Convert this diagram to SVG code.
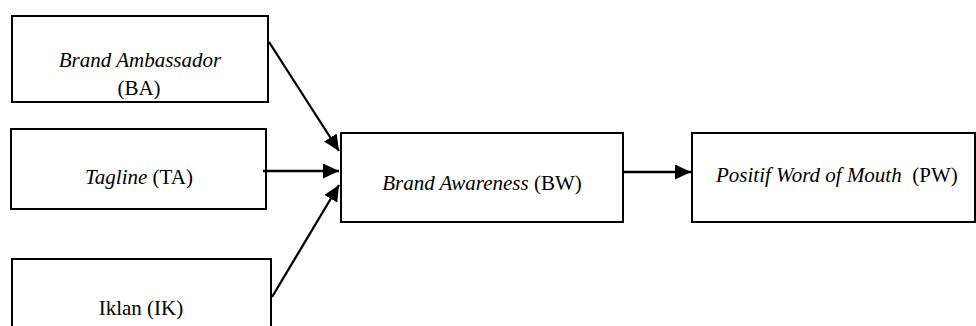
<svg xmlns="http://www.w3.org/2000/svg" width="976" height="326" viewBox="0 0 976 326">
<style>
.box{fill:#fff;stroke:#000;stroke-width:2}
text{font-family:'Liberation Serif','Times New Roman',serif;font-size:21px;fill:#000}
.i{font-style:italic}
.c{stroke:#000;stroke-width:2.3;fill:none}
</style>
<defs>
<marker id="ah" markerUnits="userSpaceOnUse" markerWidth="17" markerHeight="16" refX="16" refY="7.5" orient="auto">
<path d="M0,0 L16,7.5 L0,15 z" fill="#000"/>
</marker>
</defs>
<rect width="976" height="326" fill="#fff"/>
<g id="BA">
<rect class="box" x="12" y="16" width="256" height="86"/>
<text class="i" x="140" y="67" text-anchor="middle">Brand Ambassador</text>
<text x="139" y="95" text-anchor="middle">(BA)</text>
</g>
<g id="TA">
<rect class="box" x="11" y="129" width="255" height="80"/>
<text x="139" y="184" text-anchor="middle"><tspan class="i">Tagline</tspan> (TA)</text>
</g>
<g id="IK">
<rect class="box" x="12" y="259" width="259" height="90"/>
<text x="141" y="315" text-anchor="middle">Iklan (IK)</text>
</g>
<g id="BW">
<rect class="box" x="341" y="133" width="282" height="89"/>
<text x="482" y="190" text-anchor="middle"><tspan class="i">Brand Awareness</tspan> (BW)</text>
</g>
<g id="PW">
<rect class="box" x="692" y="133" width="283" height="89"/>
<text x="716" y="182" xml:space="preserve"><tspan class="i">Positif Word of Mouth</tspan>  (PW)</text>
</g>
<g id="connectors">
<line class="c" x1="269" y1="42" x2="339" y2="151" marker-end="url(#ah)"/>
<line class="c" x1="263" y1="171" x2="339" y2="171" marker-end="url(#ah)"/>
<line class="c" x1="272" y1="297" x2="339" y2="185" marker-end="url(#ah)"/>
<line class="c" x1="623" y1="172" x2="691" y2="172" marker-end="url(#ah)"/>
</g>
</svg>
